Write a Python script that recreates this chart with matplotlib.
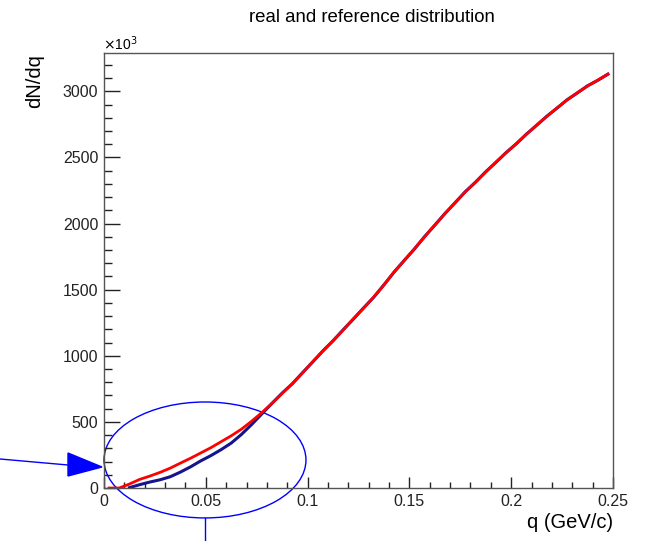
"""
real vs reference dN/dq distribution, ROOT-like style
"""

import matplotlib
matplotlib.use('Agg')
import matplotlib.pyplot as plt
from matplotlib.patches import Ellipse
from matplotlib.lines import Line2D
from matplotlib.ticker import MultipleLocator

plt.rcParams['font.family'] = ['Liberation Sans', 'DejaVu Sans']

# bin centres (GeV/c)
q = [0.0025, 0.0075, 0.0125, 0.0175, 0.0225, 0.0275, 0.0325, 0.0375,
     0.0425, 0.0475, 0.0525, 0.0575, 0.0625, 0.0675, 0.0725, 0.0775,
     0.0825, 0.0875, 0.0925, 0.0975, 0.1025, 0.1075, 0.1125, 0.1175,
     0.1225, 0.1275, 0.1325, 0.1375, 0.1425, 0.1475, 0.1525, 0.1575,
     0.1625, 0.1675, 0.1725, 0.1775, 0.1825, 0.1875, 0.1925, 0.1975,
     0.2025, 0.2075, 0.2125, 0.2175, 0.2225, 0.2275, 0.2325, 0.2375,
     0.2425, 0.2475]

# reference distribution (units of 10^3)
reference = [0, 0, 30, 65, 90, 118, 150, 188,
             225, 265, 305, 350, 395, 445, 505, 570,
             640, 715, 790, 870, 955, 1035, 1115, 1195,
             1280, 1360, 1445, 1535, 1635, 1720, 1810, 1900,
             1990, 2075, 2160, 2240, 2315, 2390, 2465, 2535,
             2605, 2675, 2745, 2810, 2875, 2935, 2990, 3040,
             3085, 3130]

# real distribution (units of 10^3)
real = [0, 0, 3, 25, 45, 62, 85, 120,
        160, 205, 245, 290, 340, 405, 480, 560,
        640, 718, 788, 872, 953, 1037, 1113, 1197,
        1278, 1362, 1443, 1537, 1633, 1722, 1808, 1902,
        1988, 2077, 2158, 2242, 2313, 2392, 2463, 2537,
        2603, 2677, 2743, 2812, 2873, 2937, 2988, 3042,
        3083, 3130]

W, H = 645, 541
fig = plt.figure(figsize=(W / 100, H / 100), dpi=100)
ax = fig.add_axes([104 / W, 1 - 488 / H, (613 - 104) / W, (488 - 53) / H])

ax.plot(q[2:], real[2:], color='#14148c', linewidth=2.2)
ax.plot(q, reference, color='#ff0000', linewidth=2.0)

ax.set_xlim(0, 0.25)
ax.set_ylim(0, 3290)

ax.xaxis.set_major_locator(MultipleLocator(0.05))
ax.xaxis.set_minor_locator(MultipleLocator(0.01))
ax.yaxis.set_major_locator(MultipleLocator(500))
ax.yaxis.set_minor_locator(MultipleLocator(100))
ax.set_xticks([0, 0.05, 0.1, 0.15, 0.2, 0.25])
ax.set_xticklabels(['0', '0.05', '0.1', '0.15', '0.2', '0.25'])

ax.tick_params(axis='both', which='both', direction='in', colors='#222222',
               labelsize=11.5, width=1.0)
ax.tick_params(axis='y', which='major', length=11.5, pad=4)
ax.tick_params(axis='y', which='minor', length=5.8)
ax.tick_params(axis='x', which='major', length=8, pad=4)
ax.tick_params(axis='x', which='minor', length=4.5)
for s in ax.spines.values():
    s.set_color('#555555')
    s.set_linewidth(1.0)

# highlight of the low-q region
ell = Ellipse((0.0496, 212), 0.0992, 877, fill=False, edgecolor='#0000ff',
              linewidth=1.0, clip_on=False)
ax.add_patch(ell)

# figure-level annotations
fig.add_artist(Line2D([205 / W, 205 / W], [1 - 518 / H, 0], color='#0000ff',
                      linewidth=1.0, transform=fig.transFigure))
fig.add_artist(Line2D([0, 68 / W], [1 - 459 / H, 1 - 465 / H], color='#0000ff',
                      linewidth=1.0, transform=fig.transFigure))
head = plt.Polygon([[68 / W, 1 - 453 / H], [68 / W, 1 - 476 / H],
                    [102 / W, 1 - 467 / H]], closed=True, color='#0000ff',
                   transform=fig.transFigure)
fig.add_artist(head)

fig.text(372 / W, 1 - 18 / H, 'real and reference distribution',
         ha='center', va='center', fontsize=13.4)
fig.text(103 / W, 1 - 50 / H, r'$\times$10$^{3}$', ha='left', va='baseline',
         fontsize=10)
fig.text(35 / W, 1 - 54 / H, 'dN/dq', rotation=90, ha='center', va='top',
         fontsize=14.5)
fig.text(613 / W, 1 - 523 / H, 'q (GeV/c)', ha='right', va='center',
         fontsize=14.5)

plt.savefig('out.png', dpi=100, facecolor='white')
